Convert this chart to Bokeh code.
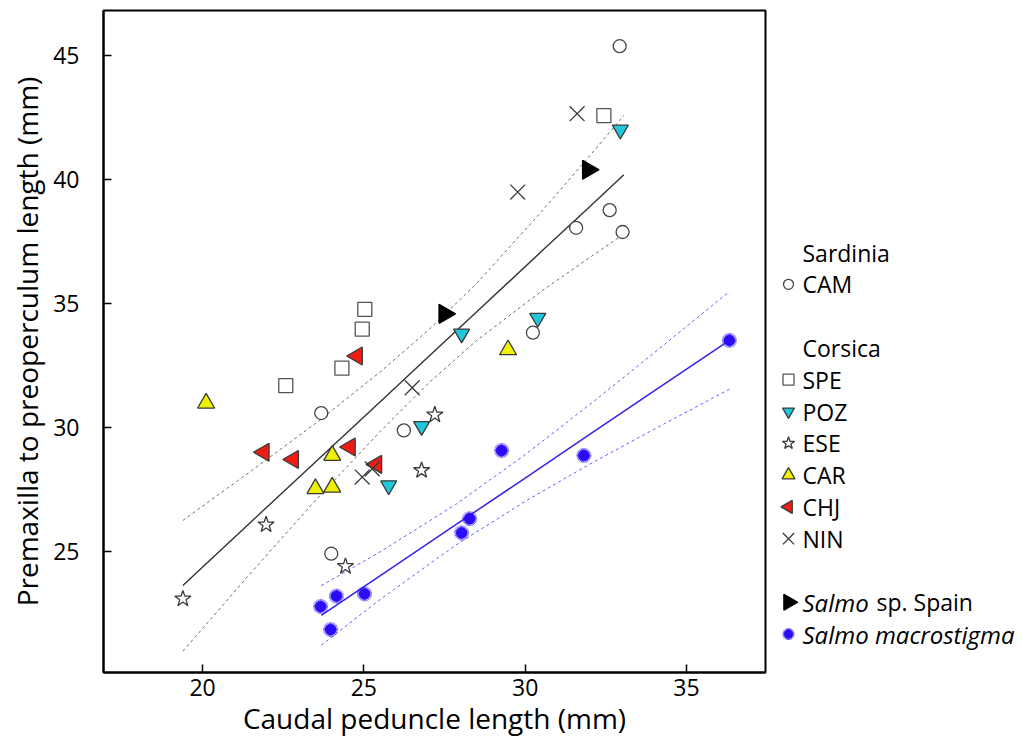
import math
from bokeh.plotting import figure
from bokeh.layouts import row
from bokeh.models import Range1d, FixedTicker
from bokeh.embed import file_html
from bokeh.resources import INLINE
from bokeh.core.properties import value

# ---------------- data ----------------
cam_x = [32.93, 32.62, 31.58, 33.02, 30.24, 23.68, 26.24, 23.99]
cam_y = [45.37, 38.76, 38.05, 37.88, 33.82, 30.58, 29.88, 24.91]
spe_x = [25.03, 24.95, 24.32, 22.58, 32.44]
spe_y = [34.76, 33.96, 32.39, 31.69, 42.57]
poz_x = [32.95, 30.39, 28.03, 26.79, 25.77]
poz_y = [42.00, 34.41, 33.78, 30.05, 27.66]
ese_x = [19.39, 21.97, 24.43, 26.79, 27.20]
ese_y = [23.09, 26.08, 24.40, 28.27, 30.51]
car_x = [20.11, 24.02, 23.50, 24.02, 29.47]
car_y = [30.98, 28.87, 27.53, 27.59, 33.13]
chj_x = [24.79, 21.90, 22.81, 24.57, 25.39]
chj_y = [32.88, 29.00, 28.71, 29.21, 28.51]
nin_x = [31.61, 29.77, 26.50, 24.95, 25.26]
nin_y = [42.65, 39.49, 31.60, 28.00, 28.33]
spain_x = [31.95, 27.50]
spain_y = [40.39, 34.58]
mac_x = [36.33, 29.27, 31.82, 28.28, 28.03, 23.66, 24.15, 25.02, 23.97]
mac_y = [33.51, 29.07, 28.87, 26.32, 25.75, 22.78, 23.20, 23.29, 21.85]

# regression line and confidence band, trout populations (black)
fit_x = [19.39, 21.5, 23.5, 25.5, 27.0, 28.5, 30.5, 32.0, 33.06]
fit_y = [23.63, 26.19, 28.61, 31.03, 32.85, 34.66, 37.09, 38.90, 40.19]
fit_hi = [26.25, 28.24, 30.16, 32.23, 33.92, 35.81, 38.69, 40.95, 42.58]
fit_lo = [20.98, 24.14, 27.06, 29.83, 31.78, 33.51, 35.49, 36.85, 37.80]
# regression line and confidence band, Salmo macrostigma (blue)
mfit_x = [23.68, 25.5, 27.84, 30.0, 32.0, 34.0, 36.33]
mfit_y = [22.42, 24.02, 26.07, 27.96, 29.72, 31.47, 33.51]
mfit_hi = [23.62, 24.98, 26.89, 28.90, 30.92, 33.01, 35.48]
mfit_lo = [21.22, 23.06, 25.25, 27.02, 28.52, 29.93, 31.54]

x_ticks = [20, 25, 30, 35]
y_ticks = [25, 30, 35, 40, 45]

FONT = "Open Sans"
BLUE = "#2a0cf5"
EDGE = "#3a3a3a"

styles = {
    "CAM": dict(marker="circle", fill="white", line="#444444", angle=0.0, size=13, lsize=10),
    "SPE": dict(marker="square", fill="white", line="#555555", angle=0.0, size=14, lsize=11),
    "POZ": dict(marker="inverted_triangle", fill="#1ec8da", line=EDGE, angle=0.0, size=16, lsize=12),
    "ESE": dict(marker="star", fill="white", line=EDGE, angle=0.0, size=17, lsize=13),
    "CAR": dict(marker="triangle", fill="#f0f000", line=EDGE, angle=0.0, size=17, lsize=13),
    "CHJ": dict(marker="triangle", fill="#ee1c14", line=EDGE, angle=math.pi / 2, size=18, lsize=13),
    "NIN": dict(marker="x", fill=None, line=EDGE, angle=0.0, size=21, lsize=16),
    "SPAIN": dict(marker="triangle", fill="black", line="black", angle=-math.pi / 2, size=19, lsize=16),
}

# ---------------- main plot ----------------
W_MAIN, H = 770, 740
FR_TOP, FR_BOTTOM = 10, 672
p = figure(width=W_MAIN, height=H, output_backend="svg", toolbar_location=None,
           x_range=Range1d(16.93, 37.45), y_range=Range1d(20.12, 46.81),
           min_border_left=103, min_border_right=5, min_border_top=FR_TOP,
           min_border_bottom=H - FR_BOTTOM)
p.grid.visible = False
p.outline_line_color = "black"
p.outline_line_width = 2
p.background_fill_color = "white"

for ax in (p.xaxis[0], p.yaxis[0]):
    ax.axis_line_width = 2
    ax.axis_line_color = "black"
    ax.major_tick_in = 8
    ax.major_tick_out = 0
    ax.major_tick_line_width = 1.5
    ax.minor_tick_line_color = None
    ax.major_label_text_font = FONT
    ax.major_label_text_font_size = "23px"
    ax.major_label_text_color = "black"
    ax.axis_label_text_font = FONT
    ax.axis_label_text_font_size = "28px"
    ax.axis_label_text_font_style = "normal"
    ax.axis_label_text_color = "black"

p.xaxis.ticker = FixedTicker(ticks=x_ticks)
p.yaxis.ticker = FixedTicker(ticks=y_ticks)
p.xaxis.axis_label = "Caudal peduncle length (mm)"
p.yaxis.axis_label = "Premaxilla to preoperculum length (mm)"
p.xaxis.major_label_standoff = 6
p.yaxis.major_label_standoff = 24
p.xaxis.axis_label_standoff = 0
p.yaxis.axis_label_standoff = 4

# lines
p.line(fit_x, fit_hi, line_color="#6f6f6f", line_dash="3 3", line_width=1)
p.line(fit_x, fit_lo, line_color="#6f6f6f", line_dash="3 3", line_width=1)
p.line(fit_x, fit_y, line_color="#333333", line_width=1.4)
p.line(mfit_x, mfit_hi, line_color="#6b5cff", line_dash="3 3", line_width=1)
p.line(mfit_x, mfit_lo, line_color="#6b5cff", line_dash="3 3", line_width=1)
p.line(mfit_x, mfit_y, line_color="#3322ee", line_width=1.5)

def draw(fig, xs, ys, st, size):
    fig.scatter(xs, ys, marker=st["marker"], size=size, fill_color=st["fill"],
                line_color=st["line"], line_width=1.3, angle=st["angle"])

def draw_burst(fig, xs, ys, size):
    fig.scatter(xs, ys, marker="circle", size=size * 0.75, fill_color=BLUE, line_color=None)
    for a in (0.0, 0.2, 0.4, 0.6):
        fig.scatter(xs, ys, marker="asterisk", size=size, line_color=BLUE,
                    line_width=0.9, angle=a, line_alpha=0.75)

groups = [("CAM", cam_x, cam_y), ("SPE", spe_x, spe_y), ("POZ", poz_x, poz_y),
          ("ESE", ese_x, ese_y), ("CAR", car_x, car_y), ("CHJ", chj_x, chj_y),
          ("NIN", nin_x, nin_y), ("SPAIN", spain_x, spain_y)]
for name, xs, ys in groups:
    draw(p, xs, ys, styles[name], styles[name]["size"])
draw_burst(p, mac_x, mac_y, 15)

# ---------------- legend panel ----------------
# its frame is aligned with the main plot frame (rows align frames)
W_LEG = 250
FR_H = FR_BOTTOM - FR_TOP
leg = figure(width=W_LEG, height=H, output_backend="svg", toolbar_location=None,
             x_range=Range1d(0, W_LEG), y_range=Range1d(FR_H, 0), min_border=0)
leg.axis.visible = False
leg.grid.visible = False
leg.outline_line_color = None

ROW0, DROW = 242, 31.8
MX, TX = 18, 32

def row_y(i):
    return ROW0 + i * DROW

tfont = dict(text_font=value(FONT), text_font_size="23px", text_baseline="middle",
             text_color="black")
ifont = dict(text_font=value(FONT), text_font_size="24px", text_baseline="middle",
             text_color="black", text_font_style="italic")

leg.text([TX, TX], [row_y(0), row_y(3)], text=["Sardinia", "Corsica"], **tfont)
entries = [("CAM", 1), ("SPE", 4), ("POZ", 5), ("ESE", 6), ("CAR", 7), ("CHJ", 8), ("NIN", 9)]
for name, r in entries:
    st = styles[name]
    draw(leg, [MX], [row_y(r)], st, st["lsize"])
    leg.text([TX], [row_y(r)], text=[name], **tfont)

st = styles["SPAIN"]
draw(leg, [MX], [row_y(11)], st, st["lsize"])
leg.text([TX], [row_y(11)], text=["Salmo"], **ifont)
leg.text([TX + 74], [row_y(11)], text=["sp. Spain"], **tfont)

draw_burst(leg, [MX], [row_y(12)], 12)
leg.text([TX], [row_y(12)], text=["Salmo macrostigma"], **ifont)

layout = row(p, leg, spacing=0)
open("out.html", "w").write(file_html(layout, INLINE))
